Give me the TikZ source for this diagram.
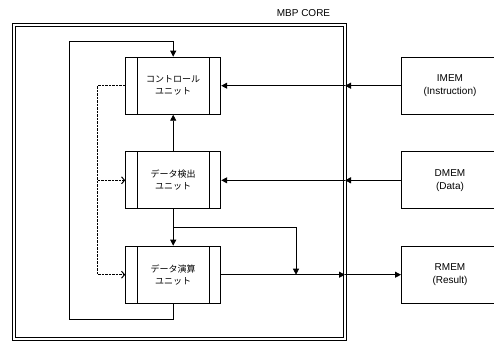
\documentclass[tikz,border=0pt]{standalone}
\usepackage{fontspec}
\setmainfont{Liberation Sans}
\newfontfamily\jpfont{Noto Sans CJK JP}
\usetikzlibrary{arrows.meta}

\begin{document}
\begin{tikzpicture}[x=1pt, y=-1pt,
  unit/.style={draw, line width=1pt, minimum width=95pt, minimum height=57pt,
    inner sep=0pt, align=center, font=\jpfont\fontsize{9}{12}\selectfont,
    path picture={
      \draw[line width=0.8pt] ([xshift=11.7pt]path picture bounding box.north west)
        -- ([xshift=11.7pt]path picture bounding box.south west);
      \draw[line width=0.8pt] ([xshift=-11.7pt]path picture bounding box.north east)
        -- ([xshift=-11.7pt]path picture bounding box.south east);}},
  mem/.style={draw, line width=1pt, minimum width=97pt, minimum height=57pt,
    inner sep=0pt, align=center, font=\fontsize{10}{13}\selectfont},
  arr/.style={line width=0.8pt, -{Triangle[length=6pt, width=6pt]}},
  dsh/.style={line width=1pt, dash pattern=on 2.5pt off 1pt,
    -{Straight Barb[length=3pt, width=7pt]}}]
  \useasboundingbox (0,0) rectangle (494,341);
  % core
  \node[draw, double, double distance=2.2pt, line width=0.8pt, outer sep=0pt,
    minimum width=331pt, minimum height=313.6pt] (core) at (179.5,181.8) {};
  \node[font=\fontsize{10}{12}\selectfont] (title) at (303.5,13.5) {MBP CORE};
  % unidades
  \node[unit] (ctrl) at (173.2,85.7) {コントロール\\ユニット};
  \node[unit] (det) at (173.2,180.3) {データ検出\\ユニット};
  \node[unit] (calc) at (173.2,274.7) {データ演算\\ユニット};
  % memorias
  \node[mem] (imem) at (450,85.7) {IMEM\\(Instruction)};
  \node[mem] (dmem) at (450,180.3) {DMEM\\(Data)};
  \node[mem] (rmem) at (450,274.7) {RMEM\\(Result)};
  % portas
  \coordinate (pI) at (core.east |- imem.west);
  \coordinate (pD) at (core.east |- dmem.west);
  \coordinate (pR) at (core.east |- rmem.west);
  \draw[arr] (imem.west) -- (pI);
  \draw[arr] (pI) -- (ctrl.east);
  \draw[arr] (dmem.west) -- (pD);
  \draw[arr] (pD) -- (det.east);
  \draw[arr] (calc.east) -- (pR);
  \draw[arr] (pR) -- (rmem.west);
  % fluxo interno
  \draw[arr] (det.north) -- (ctrl.south);
  \draw[arr] (det.south) -- (calc.north);
  \coordinate (br) at (173.2,227.7);
  \coordinate (tap) at (296,274.7);
  \draw[arr] (br) -| (tap);
  % laco
  \coordinate (loop) at (69.3,41.7);
  \draw[arr] (calc.south) -- ++(0,15.8) -| (loop) -| (ctrl.north);
  % controle
  \coordinate (dv) at (97.7,0);
  \draw[dsh] (ctrl.west) -| (dv |- calc.west) -- (calc.west);
  \draw[dsh] (dv |- det.west) -- (det.west);
\end{tikzpicture}
\end{document}
